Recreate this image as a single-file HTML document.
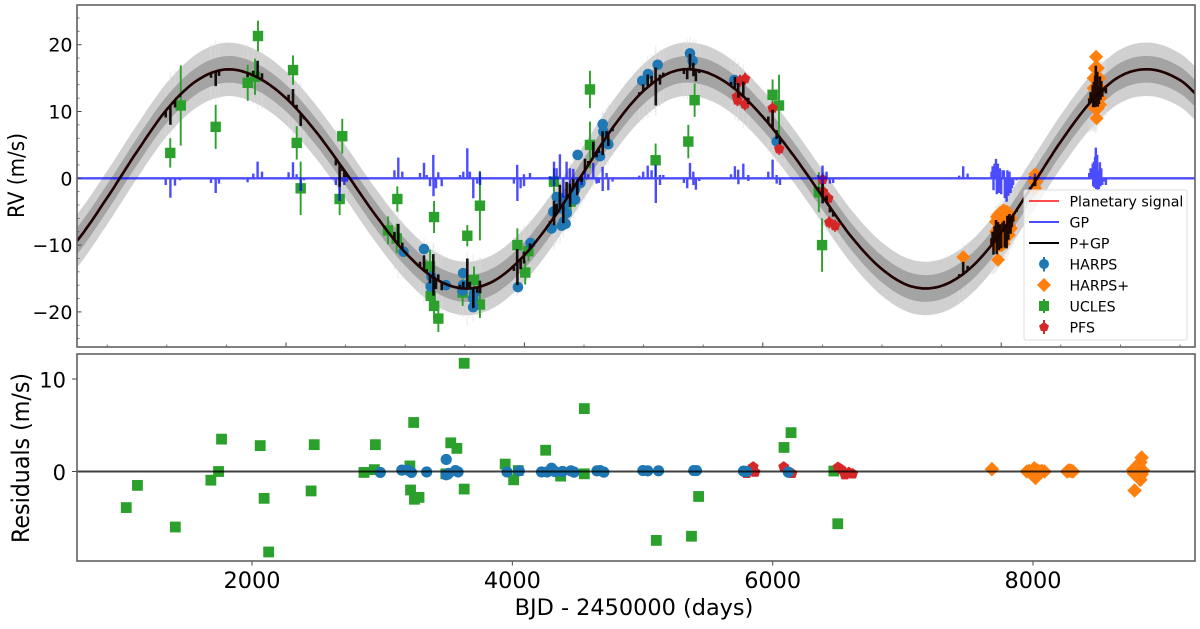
<!DOCTYPE html>
<html lang="en">
<head>
<meta charset="utf-8">
<title>RV time series with planetary signal and residuals</title>
<style>
html,body{margin:0;padding:0;background:#fff;width:1200px;height:629px;overflow:hidden}
svg{display:block;font-family:"DejaVu Sans","Liberation Sans",sans-serif;filter:blur(0.35px)}
</style>
</head>
<body>
<svg id="chart" xmlns="http://www.w3.org/2000/svg" width="1200" height="629" viewBox="0 0 1200 629">
  <defs>
    <clipPath id="clip-top"><rect x="77" y="5" width="1118" height="342"/></clipPath>
    <clipPath id="clip-bottom"><rect x="77" y="354" width="1118" height="207"/></clipPath>
  </defs>
  <rect x="0" y="0" width="1200" height="629" fill="#fff"/>
  <g id="top-plot" clip-path="url(#clip-top)"></g>
  <g id="bottom-plot" clip-path="url(#clip-bottom)"></g>
  <g id="axes"></g>
  <rect x="77" y="5" width="1118" height="342" fill="none" stroke="#606060" stroke-width="1.6"/>
  <rect x="77" y="354" width="1118" height="207" fill="none" stroke="#606060" stroke-width="1.6"/>
  <text transform="translate(24,175.5) rotate(-90)" text-anchor="middle" font-size="22.5" textLength="85" lengthAdjust="spacingAndGlyphs" fill="#000">RV (m/s)</text>
  <text transform="translate(29,458) rotate(-90)" text-anchor="middle" font-size="24" textLength="170" lengthAdjust="spacingAndGlyphs" fill="#000">Residuals (m/s)</text>
  <text x="634" y="615" text-anchor="middle" font-size="22.4" fill="#000">BJD - 2450000 (days)</text>
  <g id="legend">
    <rect x="1024" y="190" width="163" height="150" rx="2" fill="#fff" fill-opacity="0.8" stroke="#ddd" stroke-width="1"/>
    <g>
      <line x1="1029" y1="201" x2="1059" y2="201" stroke="#f00" stroke-opacity="0.7" stroke-width="2"/>
      <text x="1069.5" y="206.5" font-size="14.2">Planetary signal</text>
    </g>
    <g>
      <line x1="1029" y1="222" x2="1059" y2="222" stroke="#00f" stroke-opacity="0.7" stroke-width="2"/>
      <text x="1069.5" y="227.5" font-size="14.2">GP</text>
    </g>
    <g>
      <line x1="1029" y1="243" x2="1059" y2="243" stroke="#000" stroke-width="2"/>
      <text x="1069.5" y="248.5" font-size="14.2">P+GP</text>
    </g>
    <g>
      <line x1="1044" y1="257" x2="1044" y2="271.5" stroke="#1f77b4" stroke-width="2"/>
      <circle cx="1044" cy="264" r="5" fill="#1f77b4"/>
      <text x="1069.5" y="269.5" font-size="14.2">HARPS</text>
    </g>
    <g>
      <polygon points="1044,278 1051,285 1044,292 1037,285" fill="#ff7f0e"/>
      <text x="1069.5" y="290.5" font-size="14.2">HARPS+</text>
    </g>
    <g>
      <line x1="1044" y1="299" x2="1044" y2="313" stroke="#2ca02c" stroke-width="2"/>
      <rect x="1039" y="301" width="10" height="10" fill="#2ca02c"/>
      <text x="1069.5" y="311.5" font-size="14.2">UCLES</text>
    </g>
    <g>
      <line x1="1044" y1="320" x2="1044" y2="334" stroke="#d62728" stroke-width="2"/>
      <polygon points="1044,322 1049,325.6 1047.1,331 1040.9,331 1039,325.6" fill="#d62728"/>
      <text x="1069.5" y="332.5" font-size="14.2">PFS</text>
    </g>
  </g>
</svg>
<script>
// ---------- data: model curve ----------
const modelDays = [0,250,500,750,1000,1250,1500,1750,2000,2250,2500,2750,3000,3250,3500,3750,4000,4250,4500,4750,5000,5250,5500,5750,6000,6250,6500,6750,7000,7250,7500,7750,8000,8250,8500,8750,9000,9250,9500,9750];
const modelRv = [-14.0,-9.3,-2.9,4.0,10.3,14.6,16.3,15.2,12.0,7.0,0.9,-5.5,-11.1,-15.0,-16.5,-15.3,-11.5,-5.8,1.0,7.8,13.1,16.0,16.0,13.6,9.2,3.6,-2.7,-8.9,-13.6,-16.2,-16.1,-13.3,-8.1,-1.4,5.5,11.4,15.3,16.3,14.7,11.0];
const bandInner = [2.0];
const bandOuter = [4.0];

// ---------- data: GP signal ----------
const gpDays = [991,1030,1069,1111,1371,1410,1438,1642,1678,1726,1762,1799,2022,2059,2089,2123,2151,2419,2450,2473,2489,2509,2909,2942,2976,3124,3158,3180,3208,3236,3237,3258,3278,3306,3460,3487,3521,3543,3571,3605,3627,3628,3912,3940,3941,3968,3996,3997,4047,4214,4248,4249,4270,4298,4326,4354,4382,4383,4410,4444,4480,4508,4536,4578,4606,4625,4656,4657,4690,4704,4740,4964,4997,5034,5067,5101,5102,5137,5138,5165,5338,5366,5389,5417,5418,5439,5467,5733,5766,5794,5795,5836,5878,5879,6046,6082,6116,6117,6144,6186,6465,6501,6502,6535,6563,6591,6641,7648,7681,7718,7919,7928,7935,7945,7956,7963,7972,7981,7989,8000,8012,8023,8030,8045,8052,8060,8070,8079,8090,8101,8129,8241,8283,8284,8319,8738,8750,8760,8768,8772,8778,8783,8788,8794,8797,8805,8810,8815,8820,8828,8833,8840,8848,8856,8868,8878];
const gpValues = [-1,-2.9,-1.1,-0.3,-0.7,-2.2,-0.8,-0.2,-0.6,0.7,2.5,1,0.9,2.4,0.6,-1.9,-0.3,-1,-3.4,-0.5,-1,-0.5,1.2,3.1,1,0.8,2.3,0.5,-1.2,3.5,-2.7,-1.5,0.9,-1.2,0.5,1,4.5,1,-3,-0.8,0.9,-1,-0.8,2,-3.4,-1.5,0.6,-1.2,0.8,0.3,2.5,-1.2,1.5,3.6,-2.9,2.5,1.5,-2,1.4,-2,-1,1.7,0.6,2.3,-0.8,-0.7,1.7,-1.9,0.8,-1.8,-0.5,0.4,1,1.9,1.2,2,-3.7,0.5,-1,0.5,-0.7,-1.5,2.3,1,-1,-1.7,-0.4,0.6,1.8,1.3,-0.9,2.2,0.5,-0.4,1,2.8,0.5,-0.8,-1,-0.2,0.5,1.9,-1,1,-0.8,-0.7,-0.2,0.4,1.8,0.7,1,1.8,-1.8,2.2,2.9,-2.4,2.2,-2.2,1.5,-2.4,1.2,1.2,-3,-3.5,1.2,-2.6,1,-2.2,-1.5,-1,-0.3,0.3,0.7,-0.7,0.2,0.8,1.5,1.2,2.2,-1.2,2.5,-1.4,3.2,4.6,-1.6,3.5,-1.8,1.2,-1.6,2.4,-1.2,1.5,-1,-0.4,-0.5,-1];

// ---------- data: RV measurements ----------
const uclesDays = [1029,1117,1410,1679,1740,1765,2059,2090,2123,2450,2472,2856,2929,2934,3208,3214,3242,3242,3278,3482,3521,3577,3627,3627,3941,4034,4007,4248,4388,4550,4550,5101,5375,5428,6082,6136,6470,6497];
const uclesRv = [3.8,10.9,7.7,14.3,15.2,21.3,16.2,5.3,-1.5,-3.1,6.3,-7.8,-9,-3.1,-13.2,-17.6,-5.8,-19.1,-21,-17.1,-8.6,-15.2,-4.1,-18.9,-10,-10.9,-14.1,-0.5,-3.5,13.3,5,2.7,5.5,11.7,12.5,10.9,-2.1,-10];
const uclesErr = [2.2,6,3.3,2.7,2.7,2.3,2.2,2.5,4,2.4,2.6,2.1,2.2,1.9,2.5,2.2,2.4,2,2,2,1.6,2,5.2,2,2.5,1.5,1.8,2,2,2.8,3.5,2.5,2.5,2.5,2.3,4.6,3,4];

const harpsDays = [2986,3158,3214,3220,3342,3486,3486,3480,3570,3570,3580,3946,4052,4228,4243,4272,4290,4300,4313,4330,4340,4346,4355,4380,4425,4425,4447,4469,4634,4657,4662,4704,4989,5037,5118,5389,5411,5761,6117];
const harpsRv = [-11,-10.6,-16.2,-14.7,-16,-14.2,-16,-16.8,-19.3,-18,-17.2,-16.3,-9.7,-7.5,-5,-2.8,-4.5,-3,-7.1,-6.5,-4,-6.8,-5.2,-3,-1.7,-3.2,3.5,-0.7,3.3,8.1,7,5.1,14.6,15.6,17,18.7,17.6,14.7,5.5];
const harpsErr = [0.6];

const harpsPlusDays = [7682,7973,7956,7956,7956,7965,7965,7975,7975,7975,7990,7990,7990,7990,8005,8005,8005,8005,8020,8020,8020,8020,8035,8035,8035,8050,8050,8050,8065,8065,8065,8082,8082,8285,8278,8292,8285,8285,8796,8785,8810,8775,8800,8825,8775,8800,8835,8780,8805,8830,8785,8810,8830,8800];
const harpsPlusRv = [-11.8,-12.2,-6.5,-8,-9.5,-5.8,-10.2,-5.5,-7.5,-9,-5.2,-7,-8.5,-10,-5,-7,-9,-10,-4.8,-6.5,-8.5,-9.8,-5,-7,-9,-5,-6.5,-8.5,-5.5,-7,-8.5,-6,-7.5,0.6,-0.5,-0.5,-1.5,-0.3,18.2,16.5,16.5,15,15,15,13.5,13.5,13.5,12,12,12,10.5,10.5,11,9];

const pfsDays = [5781,5787,5808,5851,5851,6082,6138,6502,6506,6550,6558,6606];
const pfsRv = [12.2,11.7,14.6,14.9,11.1,10.5,4.4,-0.2,-2,-3,-6.6,-7.1];
const pfsErr = [0.9];

// ---------- data: residuals ----------
const resUclesDays = [1034,1120,1411,1684,1743,1766,2063,2093,2128,2454,2478,2860,2940,2948,3213,3218,3242,3248,3283,3489,3527,3574,3630,3630,3945,4010,4045,4256,4371,4553,4553,5106,5376,5431,6087,6141,6470,6500];
const resUclesValues = [-3.9,-1.5,-6,-0.94,0,3.5,2.8,-2.9,-8.7,-2.1,2.9,-0.1,0.2,2.9,0.6,-2,5.3,-3,-2.8,-0.25,3.1,2.5,-1.9,11.7,0.8,-0.9,0.1,2.3,-0.5,6.8,-0.25,-7.45,-7,-2.7,2.6,4.2,0.05,-5.65];
const resHarpsDays = [2986,3151,3198,3225,3342,3492,3492,3510,3563,3583,3959,4053,4224,4268,4301,4327,4386,4450,4474,4650,4674,4703,5003,5040,5123,5394,5414,5776,5800,6120];
const resHarpsValues = [-0.1,0.15,0.15,-0.1,-0.05,1.3,-0.35,-0.2,0.1,-0.05,-0.05,0.07,-0.05,-0.05,0.35,0,0,0.07,-0.07,0.07,0.1,-0.07,0.1,0.07,0.07,0.1,0.1,0.04,0,-0.07];
const resHarpsPlusDays = [7684,7953,7970,7985,8000,8010,8019,8035,8054,8070,8088,8262,8275,8285,8295,8307,8834,8825,8812,8800,8780,8770,8775,8785,8795,8805,8815,8825,8835,8845,8790,8810];
const resHarpsPlusValues = [0.25,0,0.05,0,0.05,0.35,-0.7,0.1,0,0.05,0,0,0.1,0.1,0.05,0,1.5,1,0.7,0.4,-2.05,0.2,-0.2,0,0.3,-0.4,-0.6,-0.9,-0.3,0.1,-0.1,0.2];
const resPfsDays = [5800,5826,5850,5864,6085,6148,6502,6525,6555,6585,6614];
const resPfsValues = [-0.2,0.1,0.5,-0.07,0.5,-0.2,0.45,0.25,-0.35,-0.1,-0.25];

// ---------- data: ticks ----------
const topYMajor = [-20,-10,0,10,20];
const topYMinor = [-24,-22,-18,-16,-14,-12,-8,-6,-4,-2,2,4,6,8,12,14,16,18,22,24];
const topXMajor = [2000,4000,6000,8000];
const topXMinor = [500,1000,1500,2500,3000,3500,4500,5000,5500,6500,7000,7500,8500,9000,9500];
const botYMajor = [0,10];
const botXMajor = [2000,4000,6000,8000];

// ---------- axis functions ----------
const xTop = d => 286 + (d - 2000) * 0.1192;
const yTop = v => 178.3 - v * 6.68;
const xBot = d => 252 + (d - 2000) * 0.13017;
const yBot = v => 471.5 - v * 9.25;

const NS = 'http://www.w3.org/2000/svg';
const mk = (parent, tag, attrs) => {
  const el = document.createElementNS(NS, tag);
  Object.keys(attrs).forEach(k => el.setAttribute(k, attrs[k]));
  parent.appendChild(el);
  return el;
};

function modelAt(d) {
  const n = modelDays.length;
  let i = 0;
  while (i < n - 2 && d > modelDays[i + 1]) i++;
  const t = (d - modelDays[i]) / (modelDays[i + 1] - modelDays[i]);
  const p0 = modelRv[Math.max(i - 1, 0)], p1 = modelRv[i], p2 = modelRv[i + 1], p3 = modelRv[Math.min(i + 2, n - 1)];
  return 0.5 * (2 * p1 + (p2 - p0) * t + (2 * p0 - 5 * p1 + 4 * p2 - p3) * t * t + (3 * p1 - p0 - 3 * p2 + p3) * t * t * t);
}

function fineDays() {
  const out = [];
  const first = modelDays[0], last = modelDays[modelDays.length - 1];
  for (let d = first; d <= last; d += 20) out.push(d);
  return out;
}

function bandPath(halfWidth) {
  const ds = fineDays();
  const up = ds.map(d => xTop(d).toFixed(1) + ' ' + yTop(modelAt(d) + halfWidth).toFixed(1));
  const dn = ds.slice().reverse().map(d => xTop(d).toFixed(1) + ' ' + yTop(modelAt(d) - halfWidth).toFixed(1));
  return 'M' + up.join('L') + 'L' + dn.join('L') + 'Z';
}

const topPlot = document.getElementById('top-plot');
const bottomPlot = document.getElementById('bottom-plot');
const axes = document.getElementById('axes');

// ---------- bands ----------
const outer = mk(topPlot, 'path', {d: bandPath(bandOuter[0]), fill: '#d0d0d0'});



gpDays.forEach((d, i) => {
  const m = modelAt(d), w = bandOuter[0] + Math.abs(gpValues[i]) * 0.35;
  const s = mk(topPlot, 'line', {x1: xTop(d), x2: xTop(d), y1: yTop(m + w), y2: yTop(m - w), stroke: '#dcdcdc', 'stroke-width': 1.6, 'stroke-opacity': 0.4});
  
  
});

const inner = mk(topPlot, 'path', {d: bandPath(bandInner[0]), fill: '#a4a4a4'});



// ---------- markers ----------
function drawErr(parent, x, y1, y2, color) {
  const l = mk(parent, 'line', {x1: x, x2: x, y1: y1, y2: y2, stroke: color, 'stroke-width': 1.9});
  
  
}

uclesDays.forEach((d, i) => {
  const x = xTop(d), y = yTop(uclesRv[i]);
  drawErr(topPlot, x, yTop(uclesRv[i] + uclesErr[i]), yTop(uclesRv[i] - uclesErr[i]), '#2ca02c');
  const r = mk(topPlot, 'rect', {x: x - 5.2, y: y - 5.2, width: 10.4, height: 10.4, fill: '#2ca02c'});
  
  
});

harpsDays.forEach((d, i) => {
  const x = xTop(d), y = yTop(harpsRv[i]);
  drawErr(topPlot, x, yTop(harpsRv[i] + harpsErr[0]), yTop(harpsRv[i] - harpsErr[0]), '#1f77b4');
  const c = mk(topPlot, 'circle', {cx: x, cy: y, r: 5.3, fill: '#1f77b4'});
  
  
});

function diamond(x, y, r) {
  return [x, y - r, x + r, y, x, y + r, x - r, y].map(n => n.toFixed(1)).join(' ');
}
function pentagon(x, y, r) {
  const pts = [];
  for (let k = 0; k < 5; k++) {
    const a = -Math.PI / 2 + k * 2 * Math.PI / 5;
    pts.push((x + r * Math.cos(a)).toFixed(1) + ' ' + (y + r * Math.sin(a)).toFixed(1));
  }
  return pts.join(' ');
}

harpsPlusDays.forEach((d, i) => {
  const p = mk(topPlot, 'polygon', {points: diamond(xTop(d), yTop(harpsPlusRv[i]), 7), fill: '#ff7f0e'});
  
  
});

pfsDays.forEach((d, i) => {
  const x = xTop(d), y = yTop(pfsRv[i]);
  drawErr(topPlot, x, yTop(pfsRv[i] + pfsErr[0]), yTop(pfsRv[i] - pfsErr[0]), '#d62728');
  const p = mk(topPlot, 'polygon', {points: pentagon(x, y, 5.5), fill: '#d62728'});
  
  
});

// ---------- lines ----------
const planetD = 'M' + fineDays().map(d => xTop(d).toFixed(1) + ' ' + yTop(modelAt(d)).toFixed(1)).join('L');
const planet = mk(topPlot, 'path', {d: planetD, fill: 'none', stroke: '#f00', 'stroke-opacity': 0.7, 'stroke-width': 2.6});



let gpD = 'M' + xTop(modelDays[0]) + ' ' + yTop(0);
gpDays.forEach((d, i) => {
  const x = xTop(d).toFixed(1);
  gpD += 'L' + x + ' ' + yTop(0).toFixed(1) + 'L' + x + ' ' + yTop(gpValues[i]).toFixed(1) + 'L' + x + ' ' + yTop(0).toFixed(1);
});
gpD += 'L' + xTop(modelDays[modelDays.length - 1]) + ' ' + yTop(0);
const gpLine = mk(topPlot, 'path', {d: gpD, fill: 'none', stroke: '#00f', 'stroke-opacity': 0.7, 'stroke-width': 2.4});



const mergedDays = fineDays().map(d => [d, null]).concat(gpDays.map((d, i) => [d, gpValues[i]])).sort((a, b) => a[0] - b[0]);
let pgD = '';
mergedDays.forEach(item => {
  const x = xTop(item[0]).toFixed(1), m = modelAt(item[0]);
  pgD += (pgD ? 'L' : 'M') + x + ' ' + yTop(m).toFixed(1);
  if (item[1] !== null) pgD += 'L' + x + ' ' + yTop(m + item[1]).toFixed(1) + 'L' + x + ' ' + yTop(m).toFixed(1);
});
const pgLine = mk(topPlot, 'path', {d: pgD, fill: 'none', stroke: '#0a0000', 'stroke-opacity': 0.92, 'stroke-width': 2.6});



// ---------- residuals ----------
resUclesDays.forEach((d, i) => {
  const r = mk(bottomPlot, 'rect', {x: xBot(d) - 5.4, y: yBot(resUclesValues[i]) - 5.4, width: 10.8, height: 10.8, fill: '#2ca02c'});
  
  
});
resPfsDays.forEach((d, i) => {
  const p = mk(bottomPlot, 'polygon', {points: pentagon(xBot(d), yBot(resPfsValues[i]), 5.8), fill: '#d62728'});
  
  
});
resHarpsDays.forEach((d, i) => {
  const c = mk(bottomPlot, 'circle', {cx: xBot(d), cy: yBot(resHarpsValues[i]), r: 5.6, fill: '#1f77b4'});
  
  
});
resHarpsPlusDays.forEach((d, i) => {
  const p = mk(bottomPlot, 'polygon', {points: diamond(xBot(d), yBot(resHarpsPlusValues[i]), 7.3), fill: '#ff7f0e'});
  
  
});
const zero = mk(bottomPlot, 'line', {x1: 77, x2: 1195, y1: yBot(0), y2: yBot(0), stroke: '#000', 'stroke-opacity': 0.75, 'stroke-width': 1.9});



// ---------- ticks ----------
topYMajor.forEach(v => {
  const t = mk(axes, 'line', {x1: 77, x2: 81.5, y1: yTop(v), y2: yTop(v), stroke: '#444', 'stroke-width': 1});
  
  
  const l = mk(axes, 'text', {x: 72.5, y: yTop(v) + 7, 'text-anchor': 'end', 'font-size': 19, fill: '#000'});
  
  
  l.textContent = (v < 0 ? '\u2212' : '') + Math.abs(v);
});
topYMinor.forEach(v => {
  const t = mk(axes, 'line', {x1: 77, x2: 79.5, y1: yTop(v), y2: yTop(v), stroke: '#555', 'stroke-width': 0.8});
  
  
});
topXMajor.forEach(d => {
  const t = mk(axes, 'line', {x1: xTop(d), x2: xTop(d), y1: 347, y2: 342.5, stroke: '#444', 'stroke-width': 1});
  
  
});
topXMinor.forEach(d => {
  const t = mk(axes, 'line', {x1: xTop(d), x2: xTop(d), y1: 347, y2: 344.5, stroke: '#555', 'stroke-width': 0.8});
  
  
});
botYMajor.forEach(v => {
  const t = mk(axes, 'line', {x1: 72, x2: 77, y1: yBot(v), y2: yBot(v), stroke: '#444', 'stroke-width': 1});
  
  
  const l = mk(axes, 'text', {x: 66, y: yBot(v) + 8.3, 'text-anchor': 'end', 'font-size': 21, fill: '#000'});
  
  
  l.textContent = String(v);
});
botXMajor.forEach(d => {
  const t = mk(axes, 'line', {x1: xBot(d), x2: xBot(d), y1: 561, y2: 565.5, stroke: '#444', 'stroke-width': 1});
  
  
  const l = mk(axes, 'text', {x: xBot(d), y: 588, 'text-anchor': 'middle', 'font-size': 22.4, fill: '#000'});
  
  
  l.textContent = String(d);
});
</script>
</body>
</html>
